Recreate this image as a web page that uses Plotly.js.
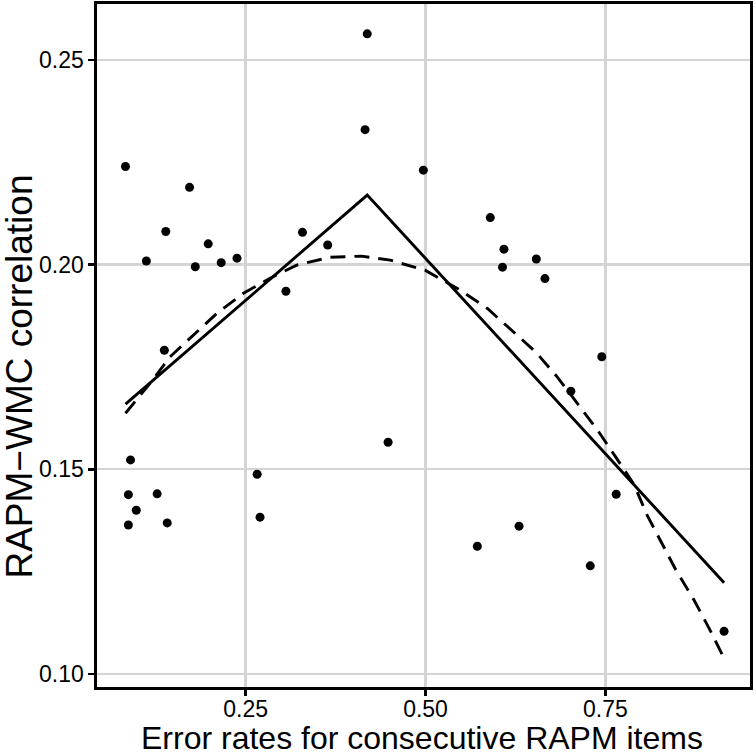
<!DOCTYPE html>
<html>
<head>
<meta charset="utf-8">
<script src="https://cdn.plot.ly/plotly-3.0.1.min.js"></script>
<style>
  html, body { margin: 0; padding: 0; background: #fff; }
  #chart { width: 756px; height: 756px; }
</style>
</head>
<body>
<div id="chart"></div>
<script>
// observed items: error rate vs RAPM-WMC correlation
var errRate = [0.419, 0.416, 0.083, 0.172, 0.139, 0.198, 0.329, 0.364, 0.497,
               0.112, 0.180, 0.216, 0.238, 0.306, 0.137, 0.448, 0.090, 0.266,
               0.087, 0.127, 0.098, 0.087, 0.141, 0.270, 0.590, 0.609, 0.654,
               0.607, 0.666, 0.745, 0.702, 0.765, 0.630, 0.572, 0.729, 0.915];
var corr = [0.2564, 0.2330, 0.2240, 0.2189, 0.2081, 0.2051, 0.2079, 0.2048, 0.2231,
            0.2009, 0.1995, 0.2005, 0.2016, 0.1935, 0.1791, 0.1566, 0.1523, 0.1488,
            0.1438, 0.1440, 0.1400, 0.1364, 0.1369, 0.1383, 0.2115, 0.2038, 0.2014,
            0.1994, 0.1966, 0.1775, 0.1691, 0.1439, 0.1361, 0.1312, 0.1264, 0.1104];

// segmented fit (solid)
var segX = [0.083, 0.419, 0.915];
var segY = [0.1659, 0.2170, 0.1223];

// smooth fit (dashed)
var curveX = [0.083, 0.119, 0.145, 0.177, 0.210, 0.247, 0.284, 0.321, 0.367, 0.411,
              0.451, 0.500, 0.548, 0.586, 0.620, 0.653, 0.683, 0.711, 0.739, 0.764,
              0.790, 0.808, 0.848, 0.873, 0.894, 0.915];
var curveY = [0.1637, 0.1714, 0.1775, 0.1828, 0.1881, 0.1930, 0.1967, 0.1999, 0.2018, 0.2021,
              0.2011, 0.1986, 0.1938, 0.1893, 0.1840, 0.1787, 0.1726, 0.1661, 0.1596, 0.1531,
              0.1462, 0.1388, 0.1254, 0.1181, 0.1112, 0.1038];

var xTicks = [0.25, 0.50, 0.75];
var yTicks = [0.10, 0.15, 0.20, 0.25];

var font = 'Liberation Sans, Arial, sans-serif';

var data = [
  {
    x: curveX, y: curveY,
    mode: 'lines', type: 'scatter',
    line: {color: '#000', width: 2.9, dash: '15px,9px'},
    hoverinfo: 'skip'
  },
  {
    x: segX, y: segY,
    mode: 'lines', type: 'scatter',
    line: {color: '#000', width: 2.9},
    hoverinfo: 'skip'
  },
  {
    x: errRate, y: corr,
    mode: 'markers', type: 'scatter',
    marker: {color: '#000', size: 9}
  }
];

var axisCommon = {
  showline: true, mirror: true, linecolor: '#000', linewidth: 2.6,
  showgrid: true, gridcolor: '#d4d4d4', gridwidth: 2.4,
  zeroline: false,
  ticks: 'outside', ticklen: 6, tickwidth: 2.6, tickcolor: '#000',
  tickfont: {family: font, size: 23, color: '#000'}
};

var layout = {
  width: 756, height: 756,
  margin: {l: 97, r: 6, t: 4, b: 69},
  paper_bgcolor: '#fff', plot_bgcolor: '#fff',
  showlegend: false,
  xaxis: Object.assign({}, axisCommon, {
    range: [0.0434, 0.951],
    tickvals: xTicks, ticktext: ['0.25', '0.50', '0.75'],
    ticklabelstandoff: -6
  }),
  yaxis: Object.assign({}, axisCommon, {
    range: [0.0968, 0.2637],
    tickvals: yTicks, ticktext: ['0.10', '0.15', '0.20', '0.25']
  }),
  annotations: [
    {
      text: 'Error rates for consecutive RAPM items',
      xref: 'paper', yref: 'paper', x: 0.497, y: -0.0741,
      xanchor: 'center', yanchor: 'middle', showarrow: false,
      font: {family: font, size: 32, color: '#000'}
    },
    {
      text: 'RAPM\u2212WMC correlation', textangle: -90,
      xref: 'paper', yref: 'paper', x: -0.119, y: 0.455,
      xanchor: 'center', yanchor: 'middle', showarrow: false,
      font: {family: font, size: 37, color: '#000'}
    }
  ]
};

Plotly.newPlot('chart', data, layout, {displayModeBar: false, staticPlot: true});
</script>
</body>
</html>
